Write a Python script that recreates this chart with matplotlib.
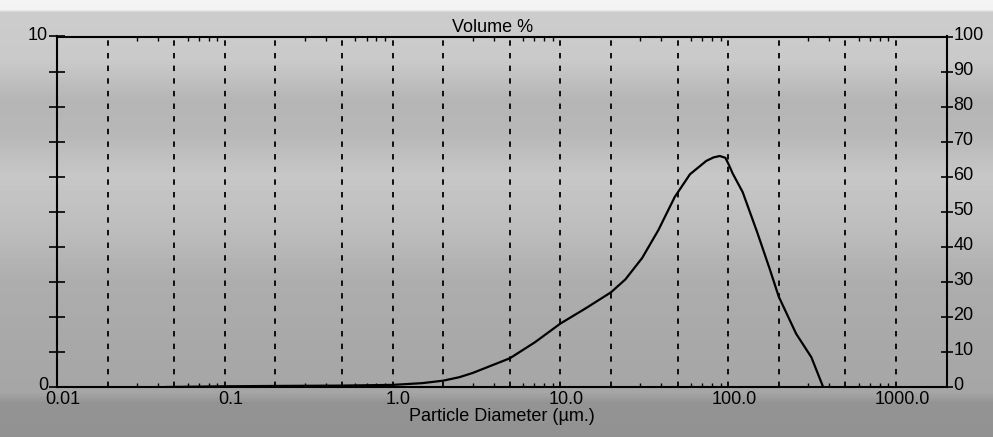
import numpy as np
import matplotlib.pyplot as plt
from matplotlib.ticker import FixedLocator, LogLocator, NullFormatter
from matplotlib.transforms import ScaledTranslation

plt.rcParams['font.family'] = ['Liberation Sans', 'DejaVu Sans']

# distribución diferencial (% en volumen) vs diámetro de partícula
diametro_um = [0.045, 0.1, 0.2, 0.5, 1.0, 1.5, 2.0, 2.5, 3.0, 5.0, 7.07, 10.0, 14.1,
               20.0, 24.4, 30.7, 38.4, 48.0, 59.2, 74.0, 81.7, 89.0, 96.2, 100.0,
               106.4, 122.0, 149.0, 177.0, 200.0, 254.0, 313.0, 368.0]
volumen_pct = [0.0, 0.02, 0.03, 0.04, 0.06, 0.11, 0.18, 0.28, 0.40, 0.82, 1.28, 1.81, 2.24,
               2.70, 3.07, 3.68, 4.48, 5.42, 6.07, 6.45, 6.55, 6.59, 6.54, 6.38,
               6.09, 5.56, 4.41, 3.36, 2.58, 1.52, 0.85, 0.0]

# rejilla vertical (1-2-5 por década) y etiquetas de ejes
grid_d = [0.02, 0.05, 0.1, 0.2, 0.5, 1, 2, 5, 10, 20, 50, 100, 200, 500, 1000]
xticks = [0.01, 0.1, 1, 10, 100, 1000]
xticklabels = ['0.01', '0.1', '1.0', '10.0', '100.0', '1000.0']
yticks_izq = list(range(0, 11))
yticklabels_izq = ['0'] + [''] * 9 + ['10']
yticks_der = list(range(0, 101, 10))

fig = plt.figure(figsize=(9.93, 4.37), dpi=100)

# fondo gris del papel escaneado
bg = fig.add_axes([0, 0, 1, 1], zorder=-5)
filas = np.array([0, 9, 12, 60, 100, 135, 175, 230, 280, 340, 392, 402, 437])
grises = np.array([0.96, 0.95, 0.80, 0.79, 0.71, 0.72, 0.78, 0.74, 0.68, 0.66, 0.65, 0.58, 0.57])
col = np.interp(np.arange(437), filas, grises)
bg.imshow(np.tile(col[:, None], (1, 8)), cmap='gray', vmin=0, vmax=1,
          aspect='auto', extent=(0, 1, 0, 1), origin='upper')
bg.set_axis_off()

ax = fig.add_axes([57 / 993, 50 / 437, 889.5 / 993, 350.5 / 437])
ax.set_facecolor('none')
ax.set_xscale('log')
ax.set_xlim(0.01, 2000)
ax.set_ylim(0, 10)

ax.vlines(grid_d, 0, 10, colors='k', linestyles=(0, (3, 4)), linewidth=1.3)
ax.plot(diametro_um, volumen_pct, color='k', linewidth=1.6, solid_joinstyle='round')

for s in ax.spines.values():
    s.set_linewidth(1.5)

ax.xaxis.set_major_locator(FixedLocator(xticks))
ax.set_xticklabels(xticklabels)
ax.xaxis.set_minor_locator(LogLocator(base=10, subs=(3, 4, 6, 7, 8, 9), numticks=20))
ax.xaxis.set_minor_formatter(NullFormatter())
ax.tick_params(axis='x', which='major', length=0, pad=3, labelsize=13)
ax.tick_params(axis='x', which='minor', direction='in', length=3, width=1,
               top=True, bottom=True)

ax.set_yticks(yticks_izq)
ax.set_yticklabels(yticklabels_izq)
ax.tick_params(axis='y', direction='inout', length=11, width=1.2, pad=1, labelsize=13)

ax.set_xlabel('Particle Diameter (µm.)', fontsize=13, labelpad=0)
ax.text(0.49, 1.0, 'Volume %', transform=ax.transAxes, ha='center', va='bottom',
        fontsize=13)

ax2 = ax.twinx()
ax2.set_ylim(0, 100)
ax2.set_yticks(yticks_der)
ax2.tick_params(axis='y', direction='inout', length=8, width=1.2, pad=1, labelsize=13)
for s in ax2.spines.values():
    s.set_visible(False)

# pequeños desplazamientos de las etiquetas de los ticks
dx = ScaledTranslation(6 / 100, 0, fig.dpi_scale_trans)
up = ScaledTranslation(0, 3 / 100, fig.dpi_scale_trans)
for lab in ax.get_xticklabels():
    lab.set_transform(lab.get_transform() + dx)
for lab in ax.get_yticklabels() + ax2.get_yticklabels():
    lab.set_transform(lab.get_transform() + up)

fig.savefig('out.png', dpi=100)
